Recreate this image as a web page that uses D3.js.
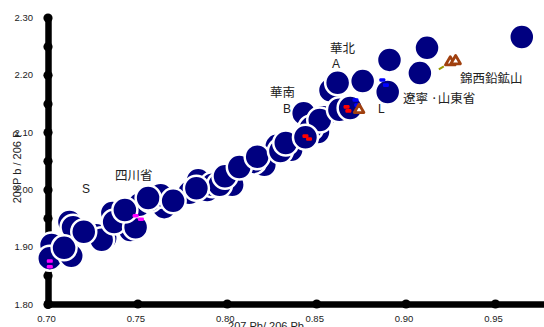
<!DOCTYPE html>
<html><head><meta charset="utf-8">
<script src="https://cdn.jsdelivr.net/npm/d3@7"></script>
<style>
html,body{margin:0;padding:0;background:#fff;overflow:hidden;}
svg{display:block;}
</style></head>
<body>
<svg id="chart" width="544" height="327"></svg>
<script>
// ---- data ----
const xTicks = [0.70, 0.75, 0.80, 0.85, 0.90, 0.95];
const yTicks = [1.80, 1.85, 1.90, 1.95, 2.00, 2.05, 2.10, 2.15, 2.20, 2.25, 2.30];
// 207Pb/206Pb and 208Pb/206Pb of samples (background first, foreground last)
const sampleX = [0.712, 0.732, 0.736, 0.746, 0.765, 0.789, 0.803, 0.821, 0.836, 0.851,
                 0.702, 0.701, 0.713, 0.714, 0.727, 0.730, 0.737, 0.749, 0.751, 0.757, 0.763, 0.779, 0.784, 0.792, 0.796, 0.815, 0.828, 0.843, 0.847, 0.854, 0.852, 0.858, 0.862,
                 0.709, 0.720, 0.743, 0.756, 0.770, 0.783, 0.799, 0.807, 0.817, 0.830, 0.833, 0.844, 0.863, 0.869, 0.876, 0.890, 0.891, 0.908, 0.912, 0.965];
const sampleY = [1.943, 1.915, 1.959, 1.929, 1.969, 1.999, 2.008, 2.043, 2.069, 2.100,
                 1.903, 1.880, 1.884, 1.934, 1.920, 1.912, 1.943, 1.934, 1.973, 1.982, 1.990, 1.994, 2.016, 2.008, 2.008, 2.048, 2.076, 2.133, 2.107, 2.126, 2.121, 2.173, 2.186,
                 1.898, 1.926, 1.964, 1.985, 1.980, 2.002, 2.023, 2.039, 2.057, 2.067, 2.081, 2.091, 2.139, 2.142, 2.189, 2.170, 2.226, 2.203, 2.247, 2.266];
const magentaX = [0.701, 0.701, 0.749, 0.752];
const magentaY = [1.875, 1.865, 1.954, 1.948];
const redX = [0.844, 0.846, 0.867, 0.868];
const redY = [2.093, 2.088, 2.144, 2.137];
const blueX = [0.872, 0.873, 0.887, 0.889];
const blueY = [2.156, 2.147, 2.191, 2.182];
const mineX = [0.874, 0.925, 0.928];
const mineY = [2.139, 2.222, 2.224];
const oliveX = [0.920];
const oliveY = [2.212];
const labelText = ["華北", "A", "華南", "B", "L", "遼寧 ·山東省", "錦西鉛鉱山", "四川省", "S"];
const labelX = [0.8577, 0.8588, 0.8242, 0.8314, 0.8846, 0.8985, 0.9304, 0.7375, 0.7190];
const labelY = [2.2380, 2.2119, 2.1613, 2.1333, 2.1333, 2.1508, 2.1857, 2.0164, 1.9937];
const xTitle = "207 Pb/ 206 Pb";
const yTitle = "208P b / 206 P";

// ---- chart ----
const svg = d3.select("#chart");
const x = d3.scaleLinear().domain([0.70, 0.98]).range([48, 548.6]);
const y = d3.scaleLinear().domain([1.80, 2.30]).range([304, 17.5]);
const numFont = "'Liberation Sans', Arial, sans-serif";
const cjkFont = "'Noto Sans CJK JP', 'Noto Sans', sans-serif";

// axes
const yAxis = d3.axisLeft(y).tickValues(yTicks).tickSize(0).tickSizeOuter(0).tickPadding(15)
  .tickFormat(d => (Math.round(d * 100) % 10 === 0) ? d3.format(".2f")(d) : "");
const xAxis = d3.axisBottom(x).tickValues(xTicks).tickSize(0).tickSizeOuter(0).tickPadding(11)
  .tickFormat(d3.format(".2f"));

const gx = svg.append("g").attr("transform", `translate(0,${y(1.80)})`).call(xAxis);
const gy = svg.append("g").attr("transform", `translate(${x(0.70)},0)`).call(yAxis);
[gx, gy].forEach(g => {
  g.select(".domain").attr("stroke", "#000").attr("stroke-width", 6.5).attr("stroke-linecap", "round");
  g.selectAll(".tick text").attr("font-family", numFont).attr("font-size", 9.5).attr("fill", "#222");
  g.selectAll(".tick").append("circle").attr("r", 4.6).attr("fill", "#000");
});
gx.selectAll(".tick text").attr("dx", -2);

// titles
svg.append("text").attr("x", 266).attr("y", 330).attr("text-anchor", "middle")
  .attr("font-family", numFont).attr("font-size", 11).attr("fill", "#222").text(xTitle);
svg.append("text").attr("transform", "translate(21,167) rotate(-90)").attr("text-anchor", "middle")
  .attr("font-family", numFont).attr("font-size", 11).attr("fill", "#222").text(yTitle);

// sample circles
svg.append("g").selectAll("circle").data(sampleX.map((v, i) => [v, sampleY[i]])).join("circle")
  .attr("cx", d => x(d[0])).attr("cy", d => y(d[1])).attr("r", 12.5)
  .attr("fill", "#000080").attr("stroke", "#fff").attr("stroke-width", 2.5);

// small markers
function dashes(xs, ys, color) {
  svg.append("g").selectAll("rect").data(xs.map((v, i) => [v, ys[i]])).join("rect")
    .attr("x", d => x(d[0]) - 3).attr("y", d => y(d[1]) - 1.8)
    .attr("width", 6).attr("height", 3.6).attr("rx", 1.2).attr("fill", color);
}
dashes(magentaX, magentaY, "#ff00ff");
dashes(redX, redY, "#ff0000");
dashes(blueX, blueY, "#0000ff");

svg.append("g").selectAll("line").data(oliveX.map((v, i) => [v, oliveY[i]])).join("line")
  .attr("x1", d => x(d[0]) - 2.5).attr("y1", d => y(d[1]) + 1.5)
  .attr("x2", d => x(d[0]) + 2.5).attr("y2", d => y(d[1]) - 1.5)
  .attr("stroke", "#999900").attr("stroke-width", 2);

svg.append("g").selectAll("path").data(mineX.map((v, i) => [v, mineY[i]])).join("path")
  .attr("transform", d => `translate(${x(d[0])},${y(d[1])})`)
  .attr("d", d3.symbol(d3.symbolTriangle, 40))
  .attr("fill", "#fff").attr("stroke", "#a0400f").attr("stroke-width", 2.8).attr("stroke-linejoin", "round");

// annotations
svg.append("g").selectAll("text").data(labelText.map((t, i) => [t, labelX[i], labelY[i]])).join("text")
  .attr("x", d => x(d[1])).attr("y", d => y(d[2]))
  .attr("font-family", d => /^[A-Z]$/.test(d[0]) ? numFont : cjkFont)
  .attr("font-size", d => /^[A-Z]$/.test(d[0]) ? 12 : 12.5)
  .attr("fill", "#222").text(d => d[0]);
</script>
</body></html>
